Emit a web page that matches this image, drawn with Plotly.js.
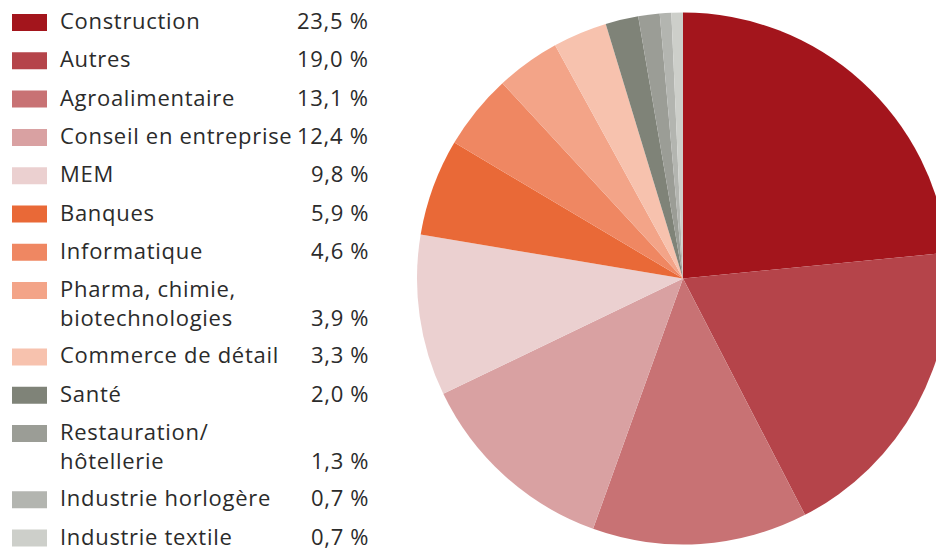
<!DOCTYPE html>
<html>
<head>
<meta charset="utf-8">
<script src="https://cdn.plot.ly/plotly-3.0.1.min.js"></script>
<style>
html, body { margin: 0; padding: 0; overflow: hidden; background: #fff; }
#chart { width: 960px; height: 551px; }
.annotation-text { letter-spacing: 0.7px; }
</style>
</head>
<body>
<div id="chart"></div>
<script>
// Data
const categories = [
  "Construction", "Autres", "Agroalimentaire", "Conseil en entreprise", "MEM",
  "Banques", "Informatique", "Pharma, chimie,<br>biotechnologies", "Commerce de détail",
  "Santé", "Restauration/<br>hôtellerie", "Industrie horlogère", "Industrie textile"
];
const shares = [23.5, 19.0, 13.1, 12.4, 9.8, 5.9, 4.6, 3.9, 3.3, 2.0, 1.3, 0.7, 0.7];
const shareLabels = ["23,5 %", "19,0 %", "13,1 %", "12,4 %", "9,8 %", "5,9 %", "4,6 %",
  "3,9 %", "3,3 %", "2,0 %", "1,3 %", "0,7 %", "0,7 %"];
const colors = ["#A3151C", "#B5444A", "#C87274", "#D9A1A2", "#EBD0D0", "#E96937", "#EF8762",
  "#F3A488", "#F7C2AE", "#7F8378", "#9B9D96", "#B3B5B0", "#CDCFCA"];

// Layout constants
const W = 960, H = 551;
const FONT = "'Open Sans', Roboto, sans-serif";
const FSIZE = 22;
const TEXT_COLOR = "#2b2b2b";
const firstY = 21, rowPitch = 38.3, linePitch = 29, textShift = -1;
const toPaperY = py => 1 - py / H;
const toPaperX = px => px / W;

const annotations = [];
const shapes = [];
let extraLines = 0;
categories.forEach((lab, i) => {
  const lines = lab.split("<br>");
  const y0 = firstY + i * rowPitch + extraLines * (linePitch - 1);
  shapes.push({
    type: "rect", xref: "paper", yref: "paper",
    x0: toPaperX(12), x1: toPaperX(47),
    y0: toPaperY(y0 + 1.5 - 8.5), y1: toPaperY(y0 + 1.5 + 8.5),
    fillcolor: colors[i], line: { width: 0 }
  });
  lines.forEach((ln, j) => {
    annotations.push({
      xref: "paper", yref: "paper", x: toPaperX(58), y: toPaperY(y0 + textShift + j * linePitch),
      xanchor: "left", yanchor: "middle", showarrow: false, text: ln,
      font: { family: FONT, size: FSIZE, color: TEXT_COLOR }
    });
  });
  const lastY = y0 + textShift + (lines.length - 1) * linePitch;
  annotations.push({
    xref: "paper", yref: "paper", x: toPaperX(371), y: toPaperY(lastY),
    xanchor: "right", yanchor: "middle", showarrow: false, text: shareLabels[i],
    font: { family: FONT, size: FSIZE, color: TEXT_COLOR }
  });
  extraLines += lines.length - 1;
});

const trace = {
  type: "pie",
  labels: categories,
  values: shares,
  sort: false,
  direction: "clockwise",
  rotation: 0,
  marker: { colors: colors, line: { width: 0 } },
  textinfo: "none",
  hoverinfo: "none",
  showlegend: false,
  domain: { x: [417 / W, 949 / W], y: [6.5 / H, 538.5 / H] }
};

Plotly.newPlot("chart", [trace], {
  width: W, height: H,
  margin: { l: 0, r: 0, t: 0, b: 0 },
  paper_bgcolor: "#ffffff",
  showlegend: false,
  shapes: shapes,
  annotations: annotations
}, { staticPlot: true });
</script>
</body>
</html>
